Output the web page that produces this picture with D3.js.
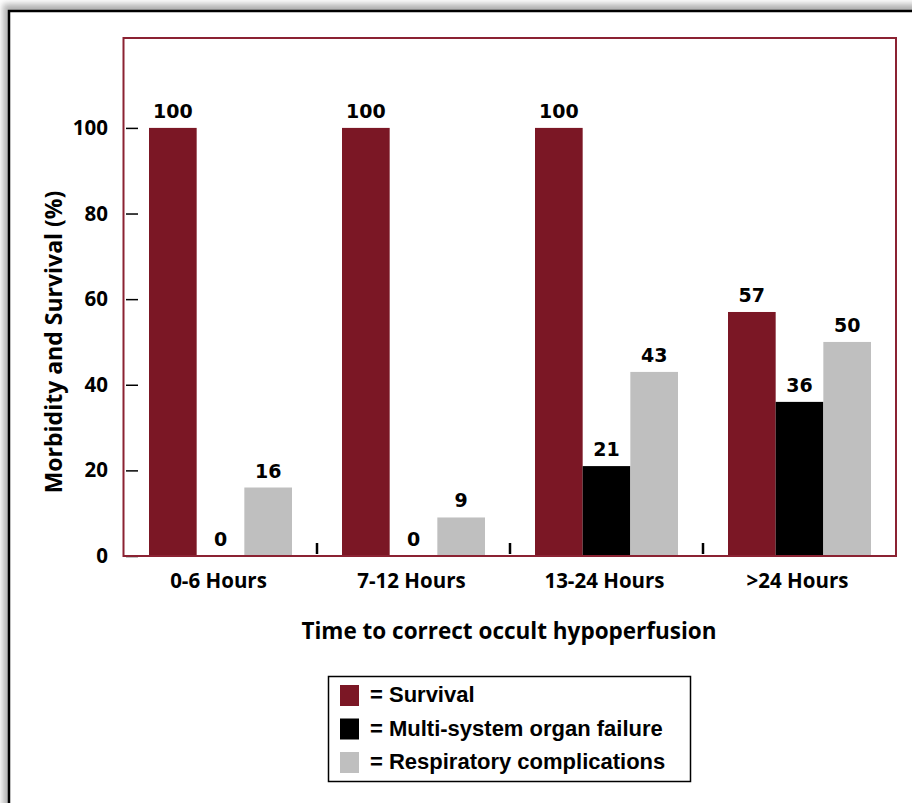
<!DOCTYPE html>
<html>
<head>
<meta charset="utf-8">
<script src="https://cdn.jsdelivr.net/npm/d3@7"></script>
<style>
  body { margin: 0; background: #fff; }
  svg { display: block; }
</style>
</head>
<body>
<div id="container"></div>
<script>
// data
var categories = ["0-6 Hours", "7-12 Hours", "13-24 Hours", ">24 Hours"];
var survival = [100, 100, 100, 57];
var organFailure = [0, 0, 21, 36];
var respiratory = [16, 9, 43, 50];
var seriesNames = ["Survival", "Multi-system organ failure", "Respiratory complications"];
var yTicks = [0, 20, 40, 60, 80, 100];

var seriesValues = [survival, organFailure, respiratory];
var colors = ["#7b1725", "#000000", "#bfbfbf"];

var W = 912, H = 803;
var frame = {left: 124, right: 896, top: 38, bottom: 556};
var titleFont = "Open Sans";

var svg = d3.select("div#container")
  .append("svg")
  .attr("width", W)
  .attr("height", H);

// outer page box with a soft shadow top/left
var defs = svg.append("defs");
var blur = defs.append("filter").attr("id", "shadow")
  .attr("x", "-5%").attr("y", "-5%").attr("width", "110%").attr("height", "110%");
blur.append("feGaussianBlur").attr("stdDeviation", 3);

svg.append("rect")
  .attr("x", 3).attr("y", 4)
  .attr("width", W + 40).attr("height", H + 40)
  .attr("fill", "#b0b0b0")
  .attr("filter", "url(#shadow)");
svg.append("rect")
  .attr("x", 9).attr("y", 11)
  .attr("width", W + 40).attr("height", H + 40)
  .attr("fill", "#fff")
  .attr("stroke", "#000")
  .attr("stroke-width", 2.5);

var x = d3.scaleBand()
  .domain(categories)
  .range([frame.left, frame.right])
  .padding(0);

var xInner = d3.scaleBand()
  .domain(d3.range(seriesNames.length))
  .range([25, x.bandwidth() - 25])
  .padding(0);

var y = d3.scaleLinear()
  .domain([0, 121])
  .range([frame.bottom, frame.top]);

var rows = [];
categories.forEach(function(c, i) {
  seriesValues.forEach(function(s, j) {
    rows.push({cat: c, s: j, v: s[i]});
  });
});

// bars
svg.append("g")
  .selectAll("rect")
  .data(rows)
  .enter().append("rect")
  .attr("x", function(d) { return x(d.cat) + xInner(d.s); })
  .attr("y", function(d) { return y(d.v); })
  .attr("width", xInner.bandwidth())
  .attr("height", function(d) { return y(0) - y(d.v); })
  .attr("fill", function(d) { return colors[d.s]; });

// value labels
svg.append("g")
  .selectAll("text")
  .data(rows)
  .enter().append("text")
  .attr("x", function(d) { return x(d.cat) + xInner(d.s) + xInner.bandwidth() / 2; })
  .attr("y", function(d) { return y(d.v) - 10; })
  .attr("text-anchor", "middle")
  .attr("font-family", "DejaVu Sans")
  .attr("font-weight", "bold")
  .attr("font-size", 19)
  .text(function(d) { return d.v; });

// y axis: short inward ticks, labels outside the frame
var yAxis = svg.append("g")
  .attr("transform", "translate(" + (frame.left + 2) + ",0)")
  .call(d3.axisLeft(y).tickValues(yTicks).tickSize(-12).tickPadding(18));
yAxis.select(".domain").remove();
yAxis.selectAll(".tick line").attr("stroke", "#000").attr("stroke-width", 1.5);
yAxis.selectAll(".tick text")
  .attr("font-family", titleFont)
  .attr("font-weight", "bold")
  .attr("font-size", 20.5)
  .attr("fill", "#000");

// group separators at the bottom
svg.append("g")
  .selectAll("line")
  .data(categories.slice(0, -1))
  .enter().append("line")
  .attr("x1", function(d) { return x(d) + x.bandwidth(); })
  .attr("x2", function(d) { return x(d) + x.bandwidth(); })
  .attr("y1", frame.bottom - 13)
  .attr("y2", frame.bottom - 2)
  .attr("stroke", "#000")
  .attr("stroke-width", 2.5);

// category labels
svg.append("g")
  .selectAll("text")
  .data(categories)
  .enter().append("text")
  .attr("x", function(d) { return x(d) + x.bandwidth() / 2 - 2; })
  .attr("y", 588)
  .attr("text-anchor", "middle")
  .attr("font-family", titleFont)
  .attr("font-weight", "bold")
  .attr("font-size", 20.5)
  .text(function(d) { return d; });

// plot frame
svg.append("rect")
  .attr("x", frame.left - 0.5)
  .attr("y", frame.top)
  .attr("width", frame.right - frame.left + 0.5)
  .attr("height", frame.bottom - frame.top)
  .attr("fill", "none")
  .attr("stroke", "#8b2232")
  .attr("stroke-width", 2);

// axis titles
svg.append("text")
  .attr("transform", "translate(62,342) rotate(-90)")
  .attr("text-anchor", "middle")
  .attr("font-family", titleFont)
  .attr("font-weight", "bold")
  .attr("font-size", 23)
  .text("Morbidity and Survival (%)");

svg.append("text")
  .attr("x", 509)
  .attr("y", 639)
  .attr("text-anchor", "middle")
  .attr("font-family", titleFont)
  .attr("font-weight", "bold")
  .attr("font-size", 22.5)
  .text("Time to correct occult hypoperfusion");

// legend
var legend = svg.append("g");
legend.append("rect")
  .attr("x", 328.5).attr("y", 676.5)
  .attr("width", 362).attr("height", 105)
  .attr("fill", "#fff")
  .attr("stroke", "#000")
  .attr("stroke-width", 1.5);

var item = legend.selectAll("g.item")
  .data(seriesNames)
  .enter().append("g")
  .attr("class", "item")
  .attr("transform", function(d, i) { return "translate(340," + (685 + i * 33.5) + ")"; });
item.append("rect")
  .attr("width", 19).attr("height", 21)
  .attr("fill", function(d, i) { return colors[i]; });
item.append("text")
  .attr("x", 30)
  .attr("y", 17)
  .attr("font-family", "Liberation Sans")
  .attr("font-weight", "bold")
  .attr("font-size", 22)
  .text(function(d) { return "= " + d; });
</script>
</body>
</html>
